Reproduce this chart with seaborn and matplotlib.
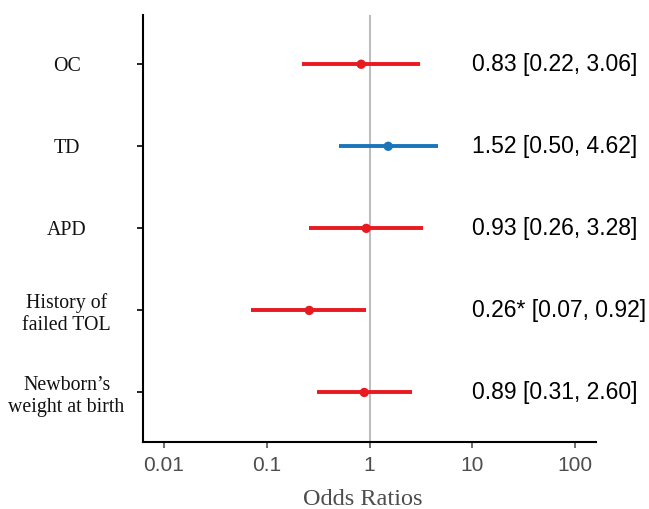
import numpy as np
import pandas as pd
import matplotlib.pyplot as plt
import matplotlib.transforms as mtransforms
import seaborn as sns

# Data
labels = ["OC", "TD", "APD", "History of\nfailed TOL", "Newborn\u2019s\nweight at birth"]
odds = [0.83, 1.52, 0.93, 0.26, 0.89]
ci_low = [0.22, 0.50, 0.26, 0.07, 0.31]
ci_high = [3.06, 4.62, 3.28, 0.92, 2.60]
notes = ["0.83 [0.22, 3.06]", "1.52 [0.50, 4.62]", "0.93 [0.26, 3.28]",
         "0.26* [0.07, 0.92]", "0.89 [0.31, 2.60]"]
direction = ["lower", "higher", "lower", "lower", "lower"]

red = "#e8191f"
blue = "#1b75bb"
palette = {"lower": red, "higher": blue}

df = pd.DataFrame({
    "label": labels,
    "odds": odds,
    "lo": ci_low,
    "hi": ci_high,
    "note": notes,
    "dir": direction,
})
df["pos"] = np.arange(len(df))[::-1]

sns.set_theme(style="white")

fig = plt.figure(figsize=(6.49, 5.09), dpi=100)
ax = fig.add_axes([143 / 649, 1 - 441.7 / 509, 453 / 649, 426.7 / 509])

# reference line at OR = 1
ax.axvline(1, color="#bdbdbd", lw=1.5, zorder=1)

# confidence intervals
for _, r in df.iterrows():
    ax.hlines(r["pos"], r["lo"], r["hi"], color=palette[r["dir"]], lw=2.8, zorder=2)

sns.scatterplot(data=df, x="odds", y="pos", hue="dir", palette=palette,
                s=45, edgecolor="none", legend=False, zorder=3, ax=ax)

ax.set_xscale("log")
ax.set_xlim(10 ** -2.2, 10 ** 2.2)
ax.set_ylim(-0.6, 4.6)
ax.set_xticks([0.01, 0.1, 1, 10, 100])
ax.set_xticklabels(["0.01", "0.1", "1", "10", "100"])
ax.minorticks_off()

ax.set_yticks(df["pos"])
ax.set_yticklabels(df["label"], family="Liberation Serif", fontsize=14.3,
                   color="#111111", ha="center", multialignment="center")
ax.tick_params(axis="y", length=4, width=1.2, color="black", pad=51, left=True)
ax.tick_params(axis="x", length=4, width=1.2, color="#555555", pad=6,
               labelsize=15, labelcolor="#4d4d4d", bottom=True)
for t in ax.get_xticklabels():
    t.set_family("Liberation Sans")

for side in ["top", "right"]:
    ax.spines[side].set_visible(False)
for side in ["left", "bottom"]:
    ax.spines[side].set_color("black")
    ax.spines[side].set_linewidth(1.5)

ax.set_xlabel("Odds Ratios", family="Liberation Serif", fontsize=17.5,
              color="#4d4d4d")
ax.xaxis.set_label_coords((363 - 143) / 453, -0.112)
ax.set_ylabel("")

trans = mtransforms.blended_transform_factory(ax.transAxes, ax.transData)
for _, r in df.iterrows():
    ax.text((472 - 143) / 453, r["pos"], r["note"], transform=trans,
            ha="left", va="center", family="Liberation Sans", fontsize=16.5,
            color="black")

fig.savefig("out.png", dpi=100)
